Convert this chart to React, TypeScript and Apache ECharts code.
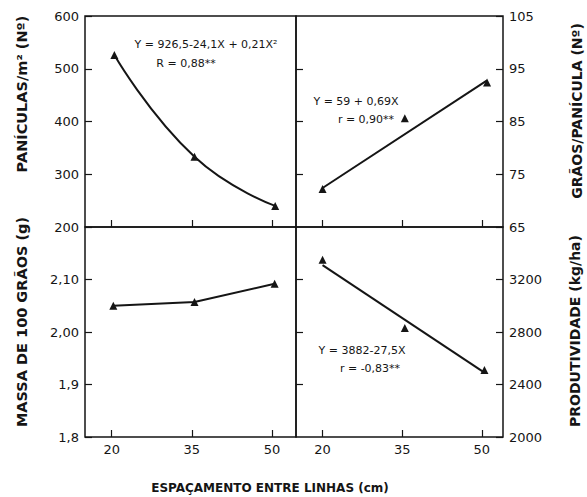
import React, { useEffect, useRef } from "react";
import * as echarts from "echarts";

const xTicks = [20, 35, 50];

const paniculasX = [20.5, 35.5, 50.6];
const paniculasY = [526, 333, 240];
const paniculasTicks = [200, 300, 400, 500, 600];

const graosX = [20, 35.5, 51];
const graosY = [72.2, 85.6, 92.4];
const graosFitX = [20, 51];
const graosFitY = [72.4, 92.8];
const graosTicks = [65, 75, 85, 95, 105];

const massaX = [20.3, 35.5, 50.5];
const massaY = [2.05, 2.057, 2.092];
const massaTicks = [1.8, 1.9, 2.0, 2.1];
const massaTickLabels = ["1,8", "1,9", "2,00", "2,10"];

const prodX = [20, 35.5, 50.5];
const prodY = [3350, 2830, 2510];
const prodFitX = [20, 50.5];
const prodFitY = [3310, 2490];
const prodTicks = [2000, 2400, 2800, 3200];

const zip = (xs: number[], ys: number[]) => xs.map((x, i) => [x, ys[i]]);

const FONT = "DejaVu Sans";
const INK = "#151515";

export default function App() {
  const ref = useRef<HTMLDivElement>(null);
  useEffect(() => {
    if (!ref.current) return;
    const chart = echarts.init(ref.current, null, { renderer: "svg" });
    const gridBase = { show: true, borderColor: INK, borderWidth: 1.5, backgroundColor: "transparent" };
    const labelStyle = { fontFamily: FONT, fontSize: 13, color: INK };
    const plain = (v: number) => String(v);
    const xAxis = (gi: number, max: number, showLabel: boolean) => ({
      type: "value",
      gridIndex: gi,
      min: 15,
      max,
      axisLine: { show: false },
      splitLine: { show: false },
      axisTick: { show: true, inside: true, length: 7, customValues: xTicks, lineStyle: { color: INK, width: 1.2 } },
      axisLabel: showLabel
        ? { show: true, customValues: xTicks, margin: 6, formatter: plain, ...labelStyle }
        : { show: false },
    });
    const yAxis = (gi: number, pos: string, min: number, max: number, ticks: number[], fmt: (v: number) => string = plain, showLabel = true) => ({
      type: "value",
      gridIndex: gi,
      position: pos,
      min,
      max,
      axisLine: { show: false },
      splitLine: { show: false },
      axisTick: { show: true, inside: true, length: 7, customValues: ticks, lineStyle: { color: INK, width: 1.2 } },
      axisLabel: showLabel
        ? { show: true, customValues: ticks, margin: 6, formatter: fmt, ...labelStyle }
        : { show: false },
    });
    const tri = { symbol: "triangle", symbolSize: 8, itemStyle: { color: INK, opacity: 1 } };
    const line = { lineStyle: { color: INK, width: 2 } };
    const eq = (x: number, y: number, text: string) => ({
      type: "text", x, y,
      style: { text, font: `11px '${FONT}'`, fill: INK, textAlign: "center", textVerticalAlign: "middle" },
    });
    const title = (x: number, y: number, text: string, size: number, rot: boolean) => ({
      type: "text", x, y, rotation: rot ? Math.PI / 2 : 0,
      style: { text, font: `bold ${size}px '${FONT}'`, fill: INK, textAlign: "center", textVerticalAlign: "middle" },
    });
    chart.setOption({
      animation: false,
      backgroundColor: "#fff",
      grid: [
        { ...gridBase, left: 85, top: 16, width: 211, height: 211 },
        { ...gridBase, left: 296, top: 16, width: 207, height: 211 },
        { ...gridBase, left: 85, top: 227, width: 211, height: 210 },
        { ...gridBase, left: 296, top: 227, width: 207, height: 210 },
      ],
      xAxis: [xAxis(0, 54.5, false), xAxis(1, 54, false), xAxis(2, 54.5, true), xAxis(3, 54, true)],
      yAxis: [
        yAxis(0, "left", 200, 600, paniculasTicks),
        yAxis(1, "right", 65, 105, graosTicks),
        yAxis(2, "left", 1.8, 2.2, massaTicks, (v: number) => massaTickLabels[massaTicks.findIndex((t) => Math.abs(t - v) < 1e-6)] ?? ""),
        yAxis(3, "right", 2000, 3600, prodTicks),
        yAxis(1, "left", 200, 600, [300, 400, 500], plain, false),
        yAxis(3, "left", 1.8, 2.2, [1.9, 2.0, 2.1], plain, false),
      ],
      series: [
        { type: "line", xAxisIndex: 0, yAxisIndex: 0, smooth: 0.5, data: zip(paniculasX, paniculasY), ...tri, ...line },
        { type: "line", xAxisIndex: 1, yAxisIndex: 1, showSymbol: false, data: zip(graosFitX, graosFitY), ...line },
        { type: "scatter", xAxisIndex: 1, yAxisIndex: 1, data: zip(graosX, graosY), ...tri },
        { type: "line", xAxisIndex: 2, yAxisIndex: 2, data: zip(massaX, massaY), ...tri, ...line },
        { type: "line", xAxisIndex: 3, yAxisIndex: 3, showSymbol: false, data: zip(prodFitX, prodFitY), ...line },
        { type: "scatter", xAxisIndex: 3, yAxisIndex: 3, data: zip(prodX, prodY), ...tri },
      ],
      graphic: [
        eq(206, 44, "Y = 926,5-24,1X + 0,21X²"),
        eq(186, 63, "R = 0,88**"),
        eq(356, 101, "Y = 59 + 0,69X"),
        eq(366, 119, "r = 0,90**"),
        eq(362, 350, "Y = 3882-27,5X"),
        eq(370, 368, "r = -0,83**"),
        title(22, 94, "PANÍCULAS/m² (Nº)", 14.5, true),
        title(22, 322, "MASSA DE 100 GRÃOS (g)", 14.5, true),
        title(577, 111, "GRÃOS/PANÍCULA (Nº)", 14, true),
        title(575, 331, "PRODUTIVIDADE (kg/ha)", 14, true),
        title(270, 488, "ESPAÇAMENTO ENTRE LINHAS (cm)", 12, false),
      ],
    });
    return () => chart.dispose();
  }, []);
  return <div ref={ref} style={{ position: "fixed", left: 0, top: 0, width: 587, height: 497 }} />;
}
